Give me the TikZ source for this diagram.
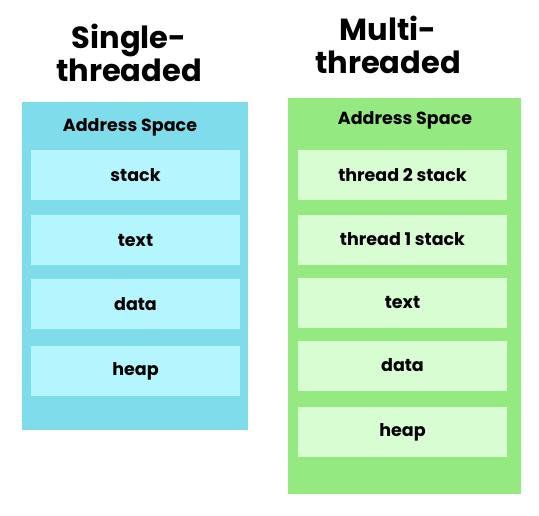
\documentclass[tikz,border=0pt]{standalone}
\usepackage{fontspec}
\setmainfont{Poppins}
\usepackage{tikz}
\usetikzlibrary{calc}
\usetikzlibrary{positioning}
\definecolor{singleout}{HTML}{7FDCEA}
\definecolor{singlein}{HTML}{B5F6FE}
\definecolor{multiout}{HTML}{95E981}
\definecolor{multiin}{HTML}{D9FDD3}
\tikzset{
	title/.style={font=\bfseries\fontsize{30.5}{33}\selectfont,align=center,inner sep=0pt},
	space/.style={anchor=north west,inner sep=0pt},
	seg/.style={minimum width=209pt,minimum height=50pt,inner sep=0pt,font=\bfseries\fontsize{17.5}{20}\selectfont},
	caption/.style={font=\bfseries\fontsize{17.5}{20}\selectfont,inner sep=0pt}
}

\begin{document}
\begin{tikzpicture}[x=1pt,y=-1pt]
	\useasboundingbox (0,0) rectangle (539,515);
	% single-threaded
	\node[title] (single) at (129,53) {Single-\\threaded};
	\node[space,fill=singleout,minimum width=226pt,minimum height=328pt] (sas) at (22,102) {};
	\node[caption] (scap) at (130,127) {Address Space};
	\node[seg,fill=singlein] (sstack) at (135.5,175) {stack};
	\node[seg,fill=singlein] (stext) at (135.5,240) {text};
	\node[seg,fill=singlein] (sdata) at (135.5,304) {data};
	\node[seg,fill=singlein] (sheap) at (135.5,371) {heap};
	% multi-threaded
	\node[title] (multi) at (388,45) {Multi-\\threaded};
	\node[space,fill=multiout,minimum width=233pt,minimum height=396pt] (mas) at (288,98) {};
	\node[caption] (mcap) at (405,120) {Address Space};
	\node[seg,fill=multiin] (mstack2) at (402.5,175) {thread 2 stack};
	\node[seg,fill=multiin] (mstack1) at (402.5,239.5) {thread 1 stack};
	\node[seg,fill=multiin] (mtext) at (402.5,302.5) {text};
	\node[seg,fill=multiin] (mdata) at (402.5,365.5) {data};
	\node[seg,fill=multiin] (mheap) at (402.5,432) {heap};
\end{tikzpicture}
\end{document}
